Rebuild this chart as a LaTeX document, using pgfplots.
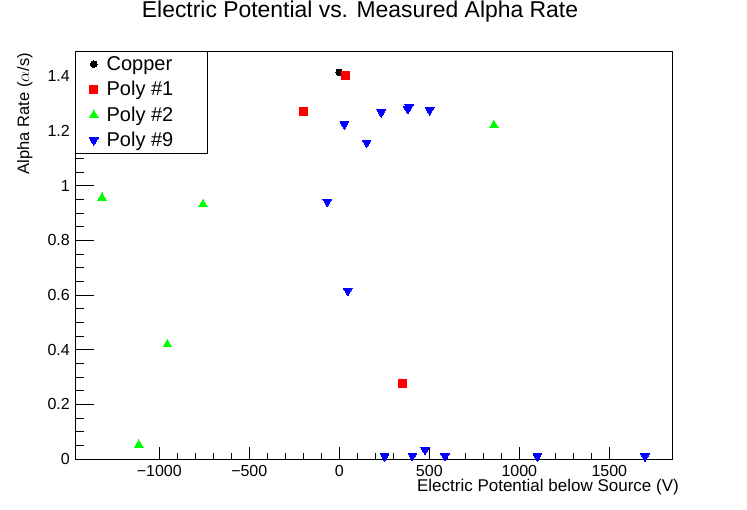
\documentclass[border=0pt]{standalone}
\usepackage{fontspec}
\setmainfont{Liberation Sans}
\usepackage{pgfplots}
\pgfplotsset{compat=1.18}
\begin{document}
\begin{tikzpicture}
\path[use as bounding box] (-75pt,-51pt) rectangle (672pt,459pt);
\begin{axis}[
  scale only axis, width=597pt, height=408pt,
  xmin=-1468, xmax=1848, ymin=0, ymax=1.493,
  clip=false,
  axis line style={black, line width=0.9pt},
  tick align=inside, tick pos=left,
  xtick={-1000,-500,0,500,1000,1500},
  xticklabels={−1000,−500,0,500,1000,1500},
  ytick={0,0.2,0.4,0.6,0.8,1,1.2,1.4},
  yticklabels={0,0.2,0.4,0.6,0.8,1,1.2,1.4},
  minor x tick num=4, minor y tick num=3,
  xtick style={/pgfplots/major tick length=12.3pt, /pgfplots/minor tick length=6.2pt, black, line width=0.9pt},
  ytick style={/pgfplots/major tick length=18.5pt, /pgfplots/minor tick length=9.3pt, black, line width=0.9pt},
  every tick label/.append style={font=\fontsize{16}{16}\selectfont},
  xticklabel style={inner sep=0pt, yshift=-6pt},
  yticklabel style={inner sep=0pt, xshift=-5pt},
  title={Electric Potential vs. Measured Alpha Rate},
  title style={at={(axis description cs:0.4774,1)}, anchor=base, yshift=27pt, font=\fontsize{22.9}{24}\selectfont},
  xlabel={Electric Potential below Source (V)},
  ylabel={Alpha Rate ($\alpha$/s)},
  every axis x label/.style={at={(axis description cs:1,0)}, anchor=base east, inner sep=0pt, xshift=7pt, yshift=-33pt, font=\fontsize{17}{18}\selectfont},
  every axis y label/.style={at={(axis description cs:-0.0838,0.995)}, anchor=east, inner sep=0pt, rotate=90, font=\fontsize{16.5}{18}\selectfont},
  legend cell align=left,
  legend image code/.code={\draw[#1, mark repeat=1] plot coordinates {(0pt,0pt)};},
  legend style={at={(axis description cs:0,1)}, anchor=north west, draw=black, line width=0.9pt,
    inner xsep=14pt, inner ysep=0pt, font=\fontsize{20}{24}\selectfont,
    column sep=8.5pt,
    nodes={inner sep=0pt, text height=19pt, text depth=6.4pt}},
]
\addplot[only marks, mark=*, mark size=3.3pt, black, mark options={line width=0pt}] coordinates {(0,1.415)};
\addlegendentry{\makebox[87pt][l]{Copper}}
\addplot[only marks, mark=square*, mark size=4pt, red, mark options={line width=0pt}] coordinates {(33,1.404) (-198,1.271) (350,0.277)};
\addlegendentry{\makebox[87pt][l]{Poly \#1}}
\addplot[only marks, mark=triangle*, mark size=5pt, green, mark options={line width=0pt}] coordinates {(-1318,0.956) (-757,0.932) (-955,0.419) (-1114,0.052) (859,1.221)};
\addlegendentry{\makebox[87pt][l]{Poly \#2}}
\addplot[only marks, mark=triangle*, mark size=5pt, blue, mark options={rotate=180, line width=0pt}] coordinates {(28,1.225) (152,1.158) (-67,0.942) (47,0.616) (233,1.269) (380,1.281) (388,1.289) (502,1.277) (252,0.010) (406,0.012) (476,0.034) (587,0.011) (1100,0.010) (1698,0.010)};
\addlegendentry{\makebox[87pt][l]{Poly \#9}}
\end{axis}
\end{tikzpicture}
\end{document}
